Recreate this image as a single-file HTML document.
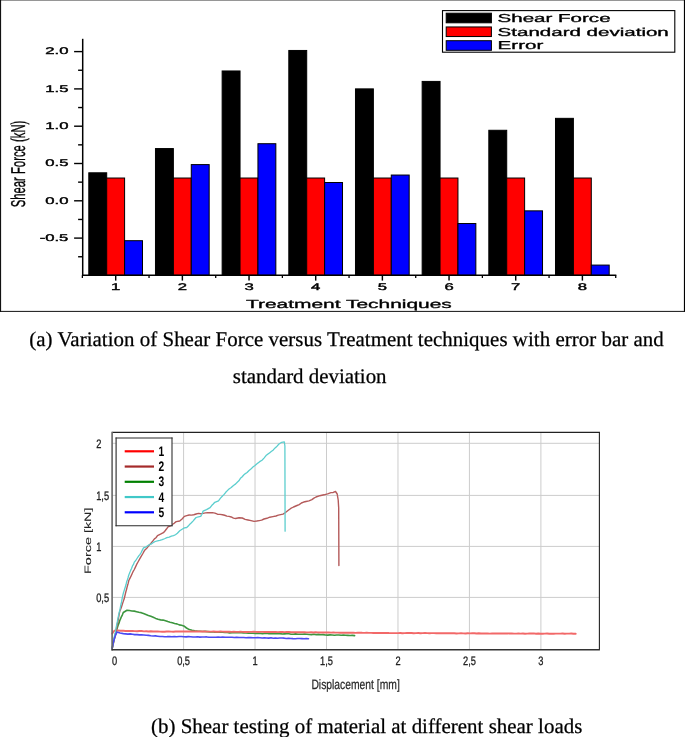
<!DOCTYPE html>
<html><head><meta charset="utf-8"><title>Shear force figure</title>
<style>
html,body{margin:0;padding:0;background:#fff;overflow:hidden}
svg{display:block;will-change:transform}
.sans{font-family:"Liberation Sans",Arial,Helvetica,sans-serif}
.serif{font-family:"Liberation Serif","Times New Roman",Times,serif}
</style></head><body>
<svg width="685" height="737" viewBox="0 0 685 737" text-rendering="geometricPrecision">
<rect x="0" y="0" width="685" height="737" fill="#ffffff"/>
<g id="chart-a">
<line x1="0" y1="0.3" x2="685" y2="0.3" stroke="#444" stroke-width="0.7"/>
<line x1="0.55" y1="0" x2="0.55" y2="311.9" stroke="#111" stroke-width="1.1"/>
<line x1="684.45" y1="0" x2="684.45" y2="311.9" stroke="#000" stroke-width="1.1"/>
<line x1="0" y1="311.4" x2="685" y2="311.4" stroke="#111" stroke-width="1"/>
<rect x="88.8" y="172.8" width="17.9" height="102.5" fill="#000000" stroke="#000" stroke-width="1"/>
<rect x="106.7" y="178.02" width="17.9" height="97.28" fill="#ff0000" stroke="#000" stroke-width="1"/>
<rect x="124.6" y="240.69" width="17.9" height="34.61" fill="#0000ff" stroke="#000" stroke-width="1"/>
<rect x="155.47" y="148.56" width="17.9" height="126.74" fill="#000000" stroke="#000" stroke-width="1"/>
<rect x="173.37" y="178.02" width="17.9" height="97.28" fill="#ff0000" stroke="#000" stroke-width="1"/>
<rect x="191.27" y="164.6" width="17.9" height="110.7" fill="#0000ff" stroke="#000" stroke-width="1"/>
<rect x="222.14" y="70.97" width="17.9" height="204.33" fill="#000000" stroke="#000" stroke-width="1"/>
<rect x="240.04" y="178.02" width="17.9" height="97.28" fill="#ff0000" stroke="#000" stroke-width="1"/>
<rect x="257.94" y="143.71" width="17.9" height="131.59" fill="#0000ff" stroke="#000" stroke-width="1"/>
<rect x="288.81" y="50.46" width="17.9" height="224.84" fill="#000000" stroke="#000" stroke-width="1"/>
<rect x="306.71" y="178.02" width="17.9" height="97.28" fill="#ff0000" stroke="#000" stroke-width="1"/>
<rect x="324.61" y="182.5" width="17.9" height="92.8" fill="#0000ff" stroke="#000" stroke-width="1"/>
<rect x="355.48" y="88.88" width="17.9" height="186.42" fill="#000000" stroke="#000" stroke-width="1"/>
<rect x="373.38" y="178.02" width="17.9" height="97.28" fill="#ff0000" stroke="#000" stroke-width="1"/>
<rect x="391.28" y="175.04" width="17.9" height="100.26" fill="#0000ff" stroke="#000" stroke-width="1"/>
<rect x="422.15" y="81.42" width="17.9" height="193.88" fill="#000000" stroke="#000" stroke-width="1"/>
<rect x="440.05" y="178.02" width="17.9" height="97.28" fill="#ff0000" stroke="#000" stroke-width="1"/>
<rect x="457.95" y="223.53" width="17.9" height="51.77" fill="#0000ff" stroke="#000" stroke-width="1"/>
<rect x="488.82" y="130.28" width="17.9" height="145.02" fill="#000000" stroke="#000" stroke-width="1"/>
<rect x="506.72" y="178.02" width="17.9" height="97.28" fill="#ff0000" stroke="#000" stroke-width="1"/>
<rect x="524.62" y="210.85" width="17.9" height="64.45" fill="#0000ff" stroke="#000" stroke-width="1"/>
<rect x="555.49" y="118.34" width="17.9" height="156.96" fill="#000000" stroke="#000" stroke-width="1"/>
<rect x="573.39" y="178.02" width="17.9" height="97.28" fill="#ff0000" stroke="#000" stroke-width="1"/>
<rect x="591.29" y="265.08" width="17.9" height="10.22" fill="#0000ff" stroke="#000" stroke-width="1"/>
<line x1="82.7" y1="38.8" x2="82.7" y2="276.0" stroke="#000" stroke-width="1.5"/>
<line x1="82.0" y1="275.3" x2="616.33" y2="275.3" stroke="#000" stroke-width="1.5"/>
<line x1="74.10000000000001" y1="51.6" x2="82.7" y2="51.6" stroke="#000" stroke-width="1.4"/>
<line x1="78.10000000000001" y1="70.25" x2="82.7" y2="70.25" stroke="#000" stroke-width="1.4"/>
<line x1="74.10000000000001" y1="88.9" x2="82.7" y2="88.9" stroke="#000" stroke-width="1.4"/>
<line x1="78.10000000000001" y1="107.55" x2="82.7" y2="107.55" stroke="#000" stroke-width="1.4"/>
<line x1="74.10000000000001" y1="126.2" x2="82.7" y2="126.2" stroke="#000" stroke-width="1.4"/>
<line x1="78.10000000000001" y1="144.85" x2="82.7" y2="144.85" stroke="#000" stroke-width="1.4"/>
<line x1="74.10000000000001" y1="163.5" x2="82.7" y2="163.5" stroke="#000" stroke-width="1.4"/>
<line x1="78.10000000000001" y1="182.15" x2="82.7" y2="182.15" stroke="#000" stroke-width="1.4"/>
<line x1="74.10000000000001" y1="200.8" x2="82.7" y2="200.8" stroke="#000" stroke-width="1.4"/>
<line x1="78.10000000000001" y1="219.45" x2="82.7" y2="219.45" stroke="#000" stroke-width="1.4"/>
<line x1="74.10000000000001" y1="238.1" x2="82.7" y2="238.1" stroke="#000" stroke-width="1.4"/>
<line x1="78.10000000000001" y1="256.75" x2="82.7" y2="256.75" stroke="#000" stroke-width="1.4"/>
<line x1="115.7" y1="275.3" x2="115.7" y2="280.6" stroke="#000" stroke-width="1.45"/>
<line x1="182.37" y1="275.3" x2="182.37" y2="280.6" stroke="#000" stroke-width="1.45"/>
<line x1="249.04" y1="275.3" x2="249.04" y2="280.6" stroke="#000" stroke-width="1.45"/>
<line x1="315.71" y1="275.3" x2="315.71" y2="280.6" stroke="#000" stroke-width="1.45"/>
<line x1="382.38" y1="275.3" x2="382.38" y2="280.6" stroke="#000" stroke-width="1.45"/>
<line x1="449.05" y1="275.3" x2="449.05" y2="280.6" stroke="#000" stroke-width="1.45"/>
<line x1="515.72" y1="275.3" x2="515.72" y2="280.6" stroke="#000" stroke-width="1.45"/>
<line x1="582.39" y1="275.3" x2="582.39" y2="280.6" stroke="#000" stroke-width="1.45"/>
<line x1="82.37" y1="275.3" x2="82.37" y2="278.0" stroke="#000" stroke-width="1.3"/>
<line x1="149.04" y1="275.3" x2="149.04" y2="278.0" stroke="#000" stroke-width="1.3"/>
<line x1="215.71" y1="275.3" x2="215.71" y2="278.0" stroke="#000" stroke-width="1.3"/>
<line x1="282.38" y1="275.3" x2="282.38" y2="278.0" stroke="#000" stroke-width="1.3"/>
<line x1="349.05" y1="275.3" x2="349.05" y2="278.0" stroke="#000" stroke-width="1.3"/>
<line x1="415.72" y1="275.3" x2="415.72" y2="278.0" stroke="#000" stroke-width="1.3"/>
<line x1="482.38" y1="275.3" x2="482.38" y2="278.0" stroke="#000" stroke-width="1.3"/>
<line x1="549.06" y1="275.3" x2="549.06" y2="278.0" stroke="#000" stroke-width="1.3"/>
<line x1="615.73" y1="275.3" x2="615.73" y2="278.0" stroke="#000" stroke-width="1.3"/>
<text class="sans" font-size="9.7" text-anchor="end" transform="translate(68.4,54.35) scale(1.72,1)" fill="#000" stroke="#000" stroke-width="0.38">2.0</text>
<text class="sans" font-size="9.7" text-anchor="end" transform="translate(68.4,91.65) scale(1.72,1)" fill="#000" stroke="#000" stroke-width="0.38">1.5</text>
<text class="sans" font-size="9.7" text-anchor="end" transform="translate(68.4,128.95) scale(1.72,1)" fill="#000" stroke="#000" stroke-width="0.38">1.0</text>
<text class="sans" font-size="9.7" text-anchor="end" transform="translate(68.4,166.25) scale(1.72,1)" fill="#000" stroke="#000" stroke-width="0.38">0.5</text>
<text class="sans" font-size="9.7" text-anchor="end" transform="translate(68.4,203.55) scale(1.72,1)" fill="#000" stroke="#000" stroke-width="0.38">0.0</text>
<text class="sans" font-size="9.7" text-anchor="end" transform="translate(68.4,240.85) scale(1.72,1)" fill="#000" stroke="#000" stroke-width="0.38">-0.5</text>
<text class="sans" font-size="9.7" text-anchor="middle" transform="translate(115.7,290.3) scale(1.72,1)" fill="#000" stroke="#000" stroke-width="0.38">1</text>
<text class="sans" font-size="9.7" text-anchor="middle" transform="translate(182.37,290.3) scale(1.72,1)" fill="#000" stroke="#000" stroke-width="0.38">2</text>
<text class="sans" font-size="9.7" text-anchor="middle" transform="translate(249.04,290.3) scale(1.72,1)" fill="#000" stroke="#000" stroke-width="0.38">3</text>
<text class="sans" font-size="9.7" text-anchor="middle" transform="translate(315.71,290.3) scale(1.72,1)" fill="#000" stroke="#000" stroke-width="0.38">4</text>
<text class="sans" font-size="9.7" text-anchor="middle" transform="translate(382.38,290.3) scale(1.72,1)" fill="#000" stroke="#000" stroke-width="0.38">5</text>
<text class="sans" font-size="9.7" text-anchor="middle" transform="translate(449.05,290.3) scale(1.72,1)" fill="#000" stroke="#000" stroke-width="0.38">6</text>
<text class="sans" font-size="9.7" text-anchor="middle" transform="translate(515.72,290.3) scale(1.72,1)" fill="#000" stroke="#000" stroke-width="0.38">7</text>
<text class="sans" font-size="9.7" text-anchor="middle" transform="translate(582.39,290.3) scale(1.72,1)" fill="#000" stroke="#000" stroke-width="0.38">8</text>
<text class="sans" font-size="11.7" text-anchor="middle" transform="translate(348.9,307.9) scale(1.79,1)" fill="#000" stroke="#000" stroke-width="0.32">Treatment Techniques</text>
<text class="sans" font-size="11.3" text-anchor="middle" transform="translate(24.8,164) scale(1.77,1) rotate(-90)" fill="#000" stroke="#000" stroke-width="0.2">Shear Force (kN)</text>
<rect x="442.5" y="10.6" width="232.3" height="41.6" fill="#fff" stroke="#000" stroke-width="1.1"/>
<rect x="446.2" y="13.2" width="45.2" height="9.6" fill="#000000" stroke="#000" stroke-width="1"/>
<text class="sans" font-size="11.5" transform="translate(497.6,21.8) scale(1.785,1)" fill="#000" stroke="#000" stroke-width="0.32">Shear Force</text>
<rect x="446.2" y="26.95" width="45.2" height="9.6" fill="#ff0000" stroke="#000" stroke-width="1"/>
<text class="sans" font-size="11.5" transform="translate(497.6,35.55) scale(1.785,1)" fill="#000" stroke="#000" stroke-width="0.32">Standard deviation</text>
<rect x="446.2" y="40.7" width="45.2" height="9.6" fill="#0000ff" stroke="#000" stroke-width="1"/>
<text class="sans" font-size="11.5" transform="translate(497.6,49.3) scale(1.785,1)" fill="#000" stroke="#000" stroke-width="0.32">Error</text>
</g>
<g id="captions" class="serif" font-size="20.9" fill="#000" stroke="#000" stroke-width="0.25">
<text x="29.3" y="346.3" textLength="634.5" lengthAdjust="spacing">(a) Variation of Shear Force versus Treatment techniques with error bar and</text>
<text x="232.8" y="382.6">standard deviation</text>
<text x="151" y="732.6" textLength="431.3" lengthAdjust="spacing">(b) Shear testing of material at different shear loads</text>
</g>
<g id="chart-b">
<rect x="112.3" y="432.3" width="487.1" height="217.4" fill="#fff"/>
<line x1="183.58" y1="432.3" x2="183.58" y2="649.7" stroke="#cccccc" stroke-width="1"/>
<line x1="255.02" y1="432.3" x2="255.02" y2="649.7" stroke="#cccccc" stroke-width="1"/>
<line x1="326.5" y1="432.3" x2="326.5" y2="649.7" stroke="#cccccc" stroke-width="1"/>
<line x1="397.97" y1="432.3" x2="397.97" y2="649.7" stroke="#cccccc" stroke-width="1"/>
<line x1="469.42" y1="432.3" x2="469.42" y2="649.7" stroke="#cccccc" stroke-width="1"/>
<line x1="540.9" y1="432.3" x2="540.9" y2="649.7" stroke="#cccccc" stroke-width="1"/>
<line x1="112.3" y1="597.4" x2="599.4" y2="597.4" stroke="#cccccc" stroke-width="1"/>
<line x1="112.3" y1="546.4" x2="599.4" y2="546.4" stroke="#cccccc" stroke-width="1"/>
<line x1="112.3" y1="495.4" x2="599.4" y2="495.4" stroke="#cccccc" stroke-width="1"/>
<line x1="112.3" y1="443.3" x2="599.4" y2="443.3" stroke="#cccccc" stroke-width="1"/>
<polyline points="112.2,648.3 112.8,645.4 113.4,642.79 114,640 114.67,637.2 115.33,634.59 116,631.8 116.74,629.66 117.48,627.18 118.22,624.96 118.96,623.17 119.7,620.8 120.6,618.6 121.5,616.52 122.4,614.82 123.3,612.5 127,610.3 129.43,610.55 131.87,611 134.3,611.1 136.6,611.66 138.9,612.32 141.2,612.65 143.5,613.4 145.93,614.4 148.37,615.45 150.8,616.2 153.23,617.24 155.67,618.39 158.1,619.3 160.57,619.89 163.03,620.08 165.5,620.8 167.78,621.6 170.05,622.2 172.32,622.73 174.6,623.5 176.9,623.87 179.2,624.88 181.5,625.29 183.8,625.9 186.5,628 189.3,629.6 192.05,630.31 194.8,630.8 197.36,631.15 199.92,631.23 202.48,631.49 205.04,631.39 207.6,631.6 210.09,631.88 212.57,631.83 215.06,632.2 217.54,632.3 220.03,632.04 222.51,632.19 225,632.5 227.33,632.41 229.67,632.84 232,632.63 234.33,632.78 236.67,632.67 239,632.82 241.33,632.82 243.67,632.85 246,633.02 248.33,633.08 250.67,633.29 253,633.23 255.33,633.41 257.67,633.42 260,633.3 262.22,633.6 264.44,633.49 266.67,633.28 268.89,633.68 271.11,633.78 273.33,633.8 275.56,633.68 277.78,633.81 280,633.61 282.22,633.97 284.44,633.89 286.67,633.79 288.89,633.73 291.11,634.18 293.33,634.29 295.56,633.89 297.78,634.3 300,634.2 302.31,634.21 304.62,634.13 306.92,634.26 309.23,634.55 311.54,634.66 313.85,634.3 316.15,634.63 318.46,634.4 320.77,634.79 323.08,634.65 325.38,634.98 327.69,635.09 330,634.9 332.24,634.97 334.47,635.28 336.71,635 338.95,634.94 341.18,635.27 343.42,635.05 345.65,635.19 347.89,635.36 350.13,635.53 352.36,635.36 354.6,635.6" fill="none" stroke="#3c963e" stroke-width="1.6" stroke-linejoin="round" stroke-linecap="round" opacity="1"/>
<polyline points="112.3,633.6 113.5,631.6 115,630.5 117.77,630.49 120.53,630.8 123.3,630.8 125.59,630.93 127.89,630.83 130.18,630.95 132.47,630.98 134.77,631.1 137.06,631.19 139.36,631.03 141.65,631.06 143.94,631.35 146.24,631.28 148.53,631.43 150.82,631.25 153.12,631.43 155.41,631.57 157.71,631.47 160,631.6 162.22,631.73 164.44,631.71 166.67,631.44 168.89,631.44 171.11,631.58 173.33,631.7 175.56,631.53 177.78,631.47 180,631.53 182.22,631.4 184.44,631.46 186.67,631.51 188.89,631.53 191.11,631.44 193.33,631.44 195.56,631.43 197.78,631.49 200,631.5 202.27,631.46 204.55,631.39 206.82,631.66 209.09,631.59 211.36,631.63 213.64,631.51 215.91,631.78 218.18,631.75 220.45,631.55 222.73,631.63 225,631.7 227.21,631.78 229.41,631.79 231.62,631.88 233.82,631.74 236.03,631.87 238.24,631.84 240.44,631.74 242.65,631.84 244.85,631.95 247.06,631.95 249.26,631.86 251.47,631.9 253.68,631.75 255.88,631.83 258.09,632.01 260.29,631.91 262.5,631.85 264.71,631.98 266.91,632.04 269.12,632.05 271.32,631.97 273.53,632.01 275.74,632.04 277.94,632.14 280.15,632.07 282.35,632.05 284.56,632.09 286.76,631.97 288.97,631.99 291.18,632.2 293.38,632.3 295.59,632.2 297.79,632.15 300,632.2 302.22,632.12 304.44,632.25 306.67,632.41 308.89,632.37 311.11,632.32 313.33,632.44 315.56,632.28 317.78,632.38 320,632.54 322.22,632.45 324.44,632.43 326.67,632.4 328.89,632.5 331.11,632.65 333.33,632.39 335.56,632.64 337.78,632.67 340,632.72 342.22,632.69 344.44,632.74 346.67,632.67 348.89,632.71 351.11,632.69 353.33,632.6 355.56,632.87 357.78,632.8 360,632.71 362.22,632.82 364.44,632.84 366.67,632.82 368.89,632.84 371.11,632.92 373.33,632.97 375.56,632.99 377.78,632.97 380,633 382.25,632.87 384.5,632.94 386.75,632.93 389,633.07 391.25,633.16 393.5,633.15 395.75,633.16 398,633.17 400.25,633.02 402.5,633.2 404.75,633.16 407,632.99 409.25,632.99 411.5,632.99 413.75,633.23 416,633.08 418.25,633.05 420.5,633.22 422.75,633.14 425,633.07 427.25,633.11 429.5,633.23 431.75,633.13 434,633.17 436.25,633.31 438.5,633.25 440.75,633.22 443,633.27 445.25,633.15 447.5,633.27 449.75,633.29 452,633.23 454.25,633.21 456.5,633.46 458.75,633.35 461,633.27 463.25,633.4 465.5,633.48 467.75,633.25 470,633.4 472.2,633.26 474.4,633.31 476.61,633.48 478.81,633.32 481.01,633.49 483.21,633.49 485.41,633.46 487.62,633.37 489.82,633.6 492.02,633.55 494.22,633.47 496.43,633.39 498.63,633.53 500.83,633.46 503.03,633.52 505.23,633.45 507.44,633.55 509.64,633.38 511.84,633.46 514.04,633.67 516.24,633.64 518.45,633.48 520.65,633.65 522.85,633.49 525.05,633.69 527.25,633.64 529.46,633.54 531.66,633.5 533.86,633.43 536.06,633.7 538.26,633.46 540.47,633.7 542.67,633.74 544.87,633.63 547.07,633.52 549.28,633.74 551.48,633.77 553.68,633.7 555.88,633.65 558.08,633.61 560.29,633.61 562.49,633.57 564.69,633.72 566.89,633.65 569.09,633.59 571.3,633.57 573.5,633.74 575.7,633.7" fill="none" stroke="#f26868" stroke-width="1.9" stroke-linejoin="round" stroke-linecap="round" opacity="1"/>
<polyline points="112.2,648.3 112.74,646.35 113.29,643.99 113.83,640.83 114.37,638.5 114.91,636.82 115.46,634.37 116,631.8 116.41,629.71 116.82,627.14 117.23,625.16 117.64,622.92 118.06,620.65 118.47,618.03 118.88,616.03 119.29,613.75 119.7,611.6 120.45,609.67 121.2,607.78 121.95,605.6 122.7,603.11 123.45,600.88 124.2,598.8 124.78,596.3 125.35,593.81 125.93,591.51 126.5,589.62 127.08,587.2 127.65,584.97 128.23,583.14 128.8,580.5 129.9,578.32 131,576.15 132.1,573.66 133.2,571.27 134.3,569.5 135.53,566.84 136.77,564.17 138,562 140,558.4 141.3,556.21 142.6,554 144.7,550.2 146.75,548.35 148.8,545.6 150.85,543.41 152.9,540.9 154.43,538.85 155.97,537.72 157.5,535.6 160.5,534.2 163.4,532.7 164.93,531.03 166.47,529.04 168,526.9 170.05,526.07 172.1,524.5 174.15,523.29 176.2,521.6 179.7,521 182.05,518.96 184.4,516.4 186.75,515.57 189.1,515 191.43,515.1 193.77,514.75 196.1,514 198.43,513.42 200.75,513.68 203.07,513.37 205.4,512.9 207.73,512.77 210.07,512.73 212.4,512.6 214.93,513.19 217.47,514.18 220,514.4 222.5,514.7 224.67,515.27 226.83,516.13 229,516.4 231.23,516.97 233.47,518.14 235.7,518.5 239,517.8 242.3,518 245.15,519.36 248,520 251.05,520.66 254.1,521.4 256.7,521.06 259.3,520.6 261.65,520.18 264,519 266.9,518.3 269.8,517.2 272.9,516.59 276,516 278.33,515.12 280.67,514.58 283,514.1 285.5,512.48 288,510.5 290.75,508.45 293.5,507 297,505.5 299.2,504.62 301.4,503 303.7,502.04 306,501.5 308.95,500.92 311.9,499.6 313.95,498.13 316,497 319.8,495.7 324,494.8 327.6,493.8 331,492.6 333.25,492.46 335.5,491.5 337.2,494 337.7,497.19 338.2,500 338.37,502.67 338.53,505.35 338.7,508 338.71,510.21 338.72,512.42 338.72,514.63 338.73,516.85 338.74,519.06 338.75,521.27 338.75,523.48 338.76,525.69 338.77,527.9 338.78,530.12 338.78,532.33 338.79,534.54 338.8,536.75 338.81,538.96 338.82,541.17 338.82,543.38 338.83,545.6 338.84,547.81 338.85,550.02 338.85,552.23 338.86,554.44 338.87,556.65 338.88,558.87 338.88,561.08 338.89,563.29 338.9,565.5" fill="none" stroke="#b45a5a" stroke-width="1.4" stroke-linejoin="round" stroke-linecap="round" opacity="1"/>
<polyline points="112.2,648.3 112.62,645.78 113.04,643.39 113.47,641.43 113.89,638.93 114.31,636.59 114.73,634.67 115.16,632.93 115.58,630.56 116,628 116.46,626.07 116.92,623.32 117.38,621.44 117.84,618.98 118.3,616.67 118.76,614.41 119.22,612.31 119.68,610.83 120.14,608.53 120.6,606 121.14,603.77 121.68,601.22 122.22,598.07 122.76,595.65 123.3,593.3 123.99,591.14 124.67,588.96 125.36,586.79 126.05,584.53 126.74,581.45 127.43,579.68 128.11,577.46 128.8,575 129.72,572.86 130.63,570.38 131.55,568.52 132.47,565.99 133.38,564.68 134.3,562.1 135.73,560.52 137.15,558.25 138.57,556.05 140,554.3 141.17,552.58 142.33,550.11 143.5,547.9 146.15,546.83 148.8,545 150.93,544.18 153.07,542.68 155.2,541.5 157.53,540.81 159.87,540.4 162.2,539.7 164.53,538.76 166.87,537.63 169.2,537.1 171.35,536.16 173.5,535.6 175.45,534.76 177.4,533.3 179.75,530.79 182.1,529.2 184.4,527.9 186.7,527.5 188.27,526.06 189.83,524.15 191.4,522.8 192.97,521.07 194.53,519.24 196.1,517.5 198.4,516.79 200.7,516.4 201.9,514.25 203.1,511.1 206.5,509.6 210.1,507.6 211.67,505.53 213.23,503.98 214.8,502.3 218.5,500.8 220.5,498.1 222.5,496 224.12,494.38 225.75,492.28 227.38,490.61 229,489 231.23,487.55 233.47,485.42 235.7,483.9 237.27,482.23 238.85,480.85 240.43,478.33 242,477 243.7,474.99 245.4,473.58 247.1,472.54 248.8,470.7 250.87,469.08 252.93,466.97 255,465.5 257.33,463.56 259.67,461.64 262,460.2 264,458.09 266,455.61 268,454 269.77,452.67 271.55,451.35 273.33,449.88 275.1,447.9 277.05,446.18 279,444 281.7,442.3 284.3,441.8 284.9,446 284.91,448.24 284.91,450.48 284.92,452.73 284.92,454.97 284.93,457.21 284.93,459.45 284.94,461.69 284.94,463.94 284.95,466.18 284.95,468.42 284.96,470.66 284.96,472.91 284.97,475.15 284.97,477.39 284.98,479.63 284.98,481.87 284.99,484.12 284.99,486.36 285,488.6 285.01,490.84 285.01,493.08 285.02,495.33 285.02,497.57 285.03,499.81 285.03,502.05 285.04,504.29 285.04,506.54 285.05,508.78 285.05,511.02 285.06,513.26 285.06,515.51 285.07,517.75 285.07,519.99 285.08,522.23 285.08,524.47 285.09,526.72 285.09,528.96 285.1,531.2" fill="none" stroke="#5ccece" stroke-width="1.3" stroke-linejoin="round" stroke-linecap="round" opacity="1"/>
<polyline points="112.2,648.3 112.7,645.6 113.2,642.8 114.1,639.75 115,636.5 115.95,634.42 116.9,632.1 120.1,633.03 123.3,633.6 125.59,633.86 127.88,634.09 130.16,633.9 132.45,634.24 134.74,634.59 137.03,634.63 139.31,634.9 141.6,634.9 143.9,634.95 146.2,635.29 148.5,635.4 150.8,635.72 153.1,635.93 155.4,635.91 157.7,636.19 160,636.5 162.38,636.43 164.76,636.71 167.14,636.67 169.52,636.44 171.9,636.72 174.28,636.48 176.66,636.69 179.04,636.51 181.42,636.48 183.8,636.7 186.09,636.88 188.38,636.65 190.67,636.69 192.96,637.03 195.24,637.02 197.53,636.82 199.82,637.12 202.11,636.98 204.4,637.07 206.69,636.92 208.98,637.24 211.27,637.18 213.56,637.32 215.84,637.32 218.13,637.12 220.42,637.18 222.71,637.13 225,637.3 227.33,637.19 229.67,637.19 232,637.32 234.33,637.47 236.67,637.27 239,637.57 241.33,637.47 243.67,637.49 246,637.73 248.33,637.63 250.67,637.59 253,637.69 255.33,637.82 257.67,637.59 260,637.8 262.2,638.04 264.41,637.7 266.61,638.04 268.82,638.12 271.02,637.83 273.23,638.19 275.43,638.06 277.64,638.2 279.84,638.01 282.05,638.07 284.25,638.17 286.45,638.53 288.66,638.27 290.86,638.54 293.07,638.65 295.27,638.7 297.48,638.51 299.68,638.56 301.89,638.67 304.09,638.82 306.3,638.6 308.5,638.8" fill="none" stroke="#4a4af2" stroke-width="1.6" stroke-linejoin="round" stroke-linecap="round" opacity="1"/>
<line x1="112.3" y1="432.3" x2="599.9499999999999" y2="432.3" stroke="#222" stroke-width="1.3"/>
<line x1="599.4" y1="432.3" x2="599.4" y2="649.7" stroke="#222" stroke-width="1.1"/>
<line x1="112.1" y1="431.7" x2="112.1" y2="650.5" stroke="#666" stroke-width="1.6"/>
<line x1="111.5" y1="649.7" x2="599.9" y2="649.7" stroke="#333" stroke-width="1.6"/>
<rect x="116.1" y="438" width="55.9" height="87.7" fill="#fff"/>
<line x1="115.55" y1="438" x2="172.55" y2="438" stroke="#2a2a2a" stroke-width="1.15"/>
<line x1="116.1" y1="437.45" x2="116.1" y2="526.25" stroke="#303030" stroke-width="1.15"/>
<line x1="172" y1="437.45" x2="172" y2="526.25" stroke="#303030" stroke-width="1.1"/>
<line x1="115.55" y1="525.7" x2="172.55" y2="525.7" stroke="#2a2a2a" stroke-width="1.15"/>
<line x1="124.7" y1="451.3" x2="154" y2="451.3" stroke="#ff0000" stroke-width="2.2"/>
<text class="sans" font-size="13.8" font-weight="bold" transform="translate(158.5,455.9) scale(0.74,1)" fill="#000">1</text>
<line x1="124.7" y1="466.55" x2="154" y2="466.55" stroke="#a52a2a" stroke-width="2.2"/>
<text class="sans" font-size="13.8" font-weight="bold" transform="translate(158.5,471.15) scale(0.74,1)" fill="#000">2</text>
<line x1="124.7" y1="481.8" x2="154" y2="481.8" stroke="#008000" stroke-width="2.2"/>
<text class="sans" font-size="13.8" font-weight="bold" transform="translate(158.5,486.4) scale(0.74,1)" fill="#000">3</text>
<line x1="124.7" y1="497.05" x2="154" y2="497.05" stroke="#40c8c8" stroke-width="2.2"/>
<text class="sans" font-size="13.8" font-weight="bold" transform="translate(158.5,501.65) scale(0.74,1)" fill="#000">4</text>
<line x1="124.7" y1="512.3" x2="154" y2="512.3" stroke="#0000ff" stroke-width="2.2"/>
<text class="sans" font-size="13.8" font-weight="bold" transform="translate(158.5,516.9) scale(0.74,1)" fill="#000">5</text>
<text class="sans" font-size="12.3" transform="translate(96.2,447.7) scale(0.755,1)" fill="#222" stroke="#222" stroke-width="0.3">2</text>
<text class="sans" font-size="12.3" transform="translate(96.2,499.8) scale(0.755,1)" fill="#222" stroke="#222" stroke-width="0.3">1,5</text>
<text class="sans" font-size="12.3" transform="translate(96.2,550.8) scale(0.755,1)" fill="#222" stroke="#222" stroke-width="0.3">1</text>
<text class="sans" font-size="12.3" transform="translate(96.2,601.8) scale(0.755,1)" fill="#222" stroke="#222" stroke-width="0.3">0,5</text>
<text class="sans" font-size="12.3" transform="translate(112.1,665.1) scale(0.755,1)" fill="#222" stroke="#222" stroke-width="0.3">0</text>
<text class="sans" font-size="12.3" text-anchor="middle" transform="translate(183.58,665.1) scale(0.755,1)" fill="#222" stroke="#222" stroke-width="0.3">0,5</text>
<text class="sans" font-size="12.3" text-anchor="middle" transform="translate(255.02,665.1) scale(0.755,1)" fill="#222" stroke="#222" stroke-width="0.3">1</text>
<text class="sans" font-size="12.3" text-anchor="middle" transform="translate(326.5,665.1) scale(0.755,1)" fill="#222" stroke="#222" stroke-width="0.3">1,5</text>
<text class="sans" font-size="12.3" text-anchor="middle" transform="translate(397.97,665.1) scale(0.755,1)" fill="#222" stroke="#222" stroke-width="0.3">2</text>
<text class="sans" font-size="12.3" text-anchor="middle" transform="translate(469.42,665.1) scale(0.755,1)" fill="#222" stroke="#222" stroke-width="0.3">2,5</text>
<text class="sans" font-size="12.3" text-anchor="middle" transform="translate(540.9,665.1) scale(0.755,1)" fill="#222" stroke="#222" stroke-width="0.3">3</text>
<text class="sans" font-size="13.5" text-anchor="middle" transform="translate(355.6,689.3) scale(0.765,1)" fill="#2a2a2a" stroke="#2a2a2a" stroke-width="0.25">Displacement [mm]</text>
<text class="sans" font-size="9.3" text-anchor="middle" transform="translate(90.9,540.7) rotate(-90) scale(1.55,1)" fill="#222" stroke="#222" stroke-width="0.08">Force [kN]</text>
</g>
</svg>
</body></html>
